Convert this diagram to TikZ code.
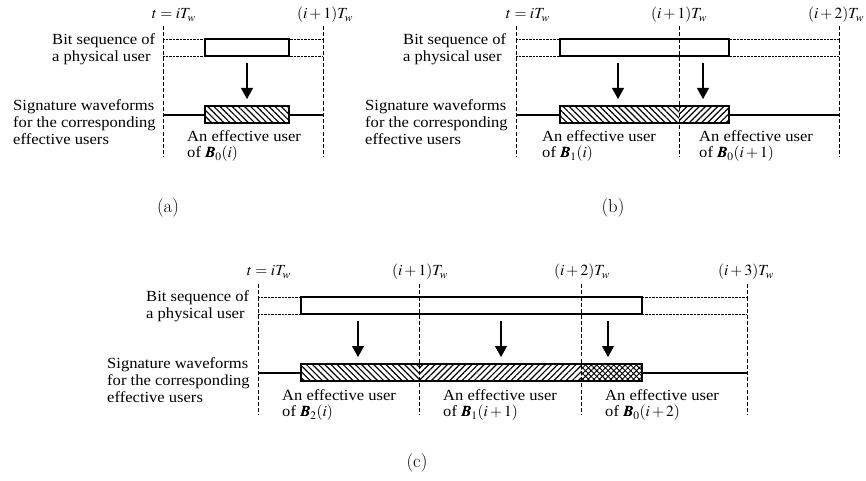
\documentclass[tikz,border=0pt]{standalone}
\usepackage{mathptmx}
\usepackage{bm}
\usepackage{fontspec}
\setmainfont{Liberation Serif}[FakeStretch=1.07]
\newfontfamily\capfont{Latin Modern Roman}
\usetikzlibrary{arrows.meta,patterns.meta}

\tikzset{
  slot/.style={line width=0.8pt, dash pattern=on 3.5pt off 1.8pt},
  dotrule/.style={line width=0.5pt, dash pattern=on 0.6pt off 0.6pt},
  bitbox/.style={draw, fill=white, line width=1.1pt},
  effbox/.style={draw, line width=1.2pt, preaction={fill=white}},
  sigline/.style={line width=1pt},
  hatchback/.style={pattern={Lines[angle=-45,distance=1.3mm,line width=1pt]}},
  hatchfwd/.style={pattern={Lines[angle=45,distance=1.3mm,line width=1pt]}},
  hatchx/.style={pattern={Hatch[angle=45,distance=1.2mm,line width=0.8pt]}},
  mapto/.style={-{Triangle[length=3.3mm,width=3.6mm]}, line width=0.9pt},
  lbl/.style={align=left, inner sep=0pt, anchor=west, font=\fontsize{13.2}{14.2}\selectfont},
  tlbl/.style={inner sep=0pt, font=\fontsize{13.2}{14.2}\selectfont},
  caplbl/.style={inner sep=0pt, font=\capfont\fontsize{16}{18}\selectfont}
}

\begin{document}
\begin{tikzpicture}[x=0.03cm, y=-0.03cm]
  \useasboundingbox (0,0) rectangle (866,481);

  % (a)
  \node[tlbl] (a-t0) at (174,15) {$t = iT_w$};
  \node[tlbl] (a-t1) at (325,15) {$(i+1)T_w$};
  \node[lbl] (a-bit) at (52,49) {Bit sequence of\\a physical user};
  \node[lbl] (a-sig) at (13,122) {Signature waveforms\\for the corresponding\\effective users};
  \draw[dotrule] (163,39) -- (323,39) (163,56) -- (323,56);
  \draw[bitbox] (205,39) rectangle (289,56);
  \draw[sigline] (163,115) -- (323,115);
  \draw[effbox, hatchback] (205,106) rectangle (289,123);
  \coordinate (a-from) at (247,63);
  \coordinate (a-to) at (247,99);
  \draw[mapto] (a-from) -- (a-to);
  \node[lbl] (a-eff) at (187,146) {An effective user\\of $\bm{B}_0(i)$};
  \draw[slot] (163,26) -- (163,157);
  \draw[slot] (323,26) -- (323,157);
  \node[caplbl] (a-cap) at (168,208) {(a)};

  % (b)
  \node[tlbl] (b-t0) at (528,15) {$t = iT_w$};
  \node[tlbl] (b-t1) at (679,15) {$(i+1)T_w$};
  \node[tlbl] (b-t2) at (836,15) {$(i+2)T_w$};
  \node[lbl] (b-bit) at (403,49) {Bit sequence of\\a physical user};
  \node[lbl] (b-sig) at (365,122) {Signature waveforms\\for the corresponding\\effective users};
  \draw[dotrule] (516,39) -- (839,39) (516,56) -- (839,56);
  \draw[bitbox] (560,39) rectangle (729,56);
  \draw[sigline] (516,115) -- (839,115);
  \draw[effbox] (560,106) rectangle (729,123);
  \fill[hatchback] (560,106) rectangle (679,123);
  \fill[hatchfwd] (679,106) rectangle (729,123);
  \coordinate (b-from1) at (618,63);
  \coordinate (b-to1) at (618,99);
  \coordinate (b-from2) at (703,63);
  \coordinate (b-to2) at (703,99);
  \draw[mapto] (b-from1) -- (b-to1);
  \draw[mapto] (b-from2) -- (b-to2);
  \node[lbl] (b-eff1) at (542,146) {An effective user\\of $\bm{B}_1(i)$};
  \node[lbl] (b-eff2) at (699,146) {An effective user\\of $\bm{B}_0(i+1)$};
  \draw[slot] (516,26) -- (516,157);
  \draw[slot] (679,26) -- (679,157);
  \draw[slot] (839,26) -- (839,157);
  \node[caplbl] (b-cap) at (613,208) {(b)};

  % (c)
  \node[tlbl] (c-t0) at (269,272) {$t = iT_w$};
  \node[tlbl] (c-t1) at (420,272) {$(i+1)T_w$};
  \node[tlbl] (c-t2) at (582,272) {$(i+2)T_w$};
  \node[tlbl] (c-t3) at (746,272) {$(i+3)T_w$};
  \node[lbl] (c-bit) at (146,306) {Bit sequence of\\a physical user};
  \node[lbl] (c-sig) at (107,380) {Signature waveforms\\for the corresponding\\effective users};
  \draw[dotrule] (258,297) -- (747,297) (258,314) -- (747,314);
  \draw[bitbox] (301,297) rectangle (642,314);
  \draw[sigline] (258,373) -- (747,373);
  \draw[effbox] (301,364) rectangle (642,381);
  \fill[hatchback] (301,364) rectangle (419,381);
  \fill[hatchfwd] (419,364) rectangle (581,381);
  \fill[hatchx] (581,364) rectangle (642,381);
  \coordinate (c-from1) at (358,321);
  \coordinate (c-to1) at (358,357);
  \coordinate (c-from2) at (501,321);
  \coordinate (c-to2) at (501,357);
  \coordinate (c-from3) at (608,321);
  \coordinate (c-to3) at (608,357);
  \draw[mapto] (c-from1) -- (c-to1);
  \draw[mapto] (c-from2) -- (c-to2);
  \draw[mapto] (c-from3) -- (c-to3);
  \node[lbl] (c-eff1) at (282,405) {An effective user\\of $\bm{B}_2(i)$};
  \node[lbl] (c-eff2) at (443,405) {An effective user\\of $\bm{B}_1(i+1)$};
  \node[lbl] (c-eff3) at (605,405) {An effective user\\of $\bm{B}_0(i+2)$};
  \draw[slot] (258,284) -- (258,415);
  \draw[slot] (419,284) -- (419,415);
  \draw[slot] (581,284) -- (581,415);
  \draw[slot] (747,284) -- (747,415);
  \node[caplbl] (c-cap) at (417,463) {(c)};
\end{tikzpicture}
\end{document}
